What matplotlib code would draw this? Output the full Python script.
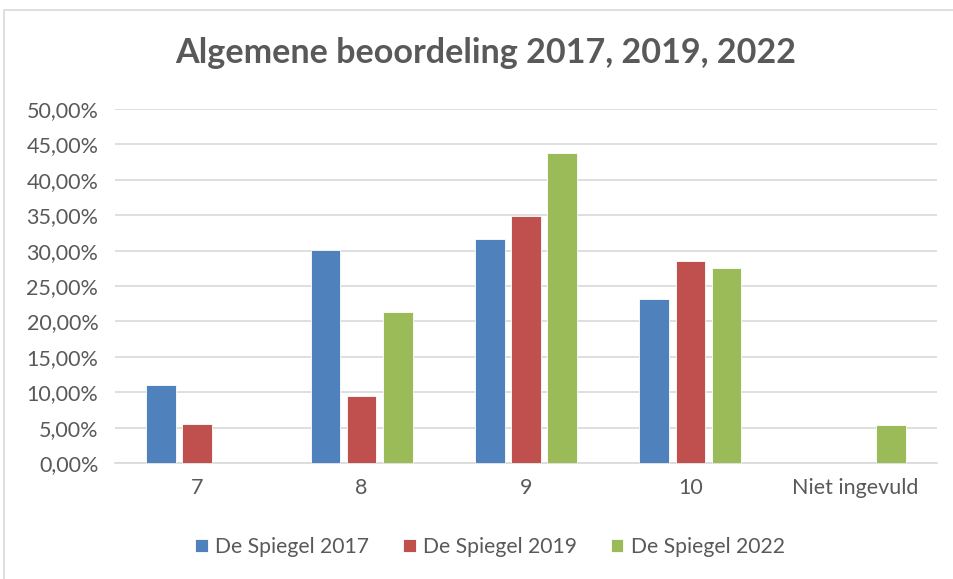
import numpy as np
import matplotlib.pyplot as plt
from matplotlib.patches import Rectangle

categories = ['7', '8', '9', '10', 'Niet ingevuld']
series_names = ['De Spiegel 2017', 'De Spiegel 2019', 'De Spiegel 2022']
spiegel_2017 = [11.0, 30.1, 31.7, 23.1, 0.0]
spiegel_2019 = [5.5, 9.5, 34.9, 28.5, 0.0]
spiegel_2022 = [0.0, 21.3, 43.8, 27.6, 5.4]
y_ticks = [0, 5, 10, 15, 20, 25, 30, 35, 40, 45, 50]

colors = ['#4F81BD', '#C0504D', '#9BBB59']
text_col = '#595959'
plt.rcParams['font.family'] = ['Lato', 'DejaVu Sans']

fig = plt.figure(figsize=(9.54, 5.79), dpi=100)
ax = fig.add_axes([115 / 954, 1 - 463 / 579, 822 / 954, 354 / 579])

x = np.arange(len(categories))
step = 0.22
width = 0.18
for i, vals in enumerate([spiegel_2017, spiegel_2019, spiegel_2022]):
    ax.bar(x + (i - 1) * step, vals, width, color=colors[i], label=series_names[i],
           edgecolor='white', linewidth=0.6, zorder=3)

ax.set_xlim(-0.5, len(categories) - 0.5)
ax.set_ylim(0, 50)
ax.set_yticks(y_ticks)
ax.set_yticklabels(['%d,00%%' % v for v in y_ticks])
ax.set_xticks(x)
ax.set_xticklabels(categories)
ax.tick_params(axis='both', length=0, labelsize=15.5, colors=text_col)
ax.tick_params(axis='x', pad=11)
ax.tick_params(axis='y', pad=12)
ax.grid(axis='y', color='#d9d9d9', linewidth=1.2, zorder=0)
for s in ['top', 'right', 'left']:
    ax.spines[s].set_visible(False)
ax.spines['bottom'].set_color('#d9d9d9')
ax.spines['bottom'].set_linewidth(1.2)

fig.text(486 / 954, 1 - 53 / 579, 'Algemene beoordeling 2017, 2019, 2022',
         ha='center', va='center', fontsize=24.6, fontweight='bold', color=text_col)

leg = fig.legend(loc='center', bbox_to_anchor=(490 / 954, 1 - 547 / 579), ncol=3,
                 frameon=False, fontsize=15.2, handlelength=0.6, handleheight=0.6,
                 handletextpad=0.35, columnspacing=1.6)
for t in leg.get_texts():
    t.set_color(text_col)

fig.patches.append(Rectangle((4 / 954, -0.1), 1.1, 1 - 10 / 579 + 0.1,
                             transform=fig.transFigure, fill=False,
                             edgecolor='#d9d9d9', linewidth=1.2))

fig.savefig('out.png', dpi=100)
